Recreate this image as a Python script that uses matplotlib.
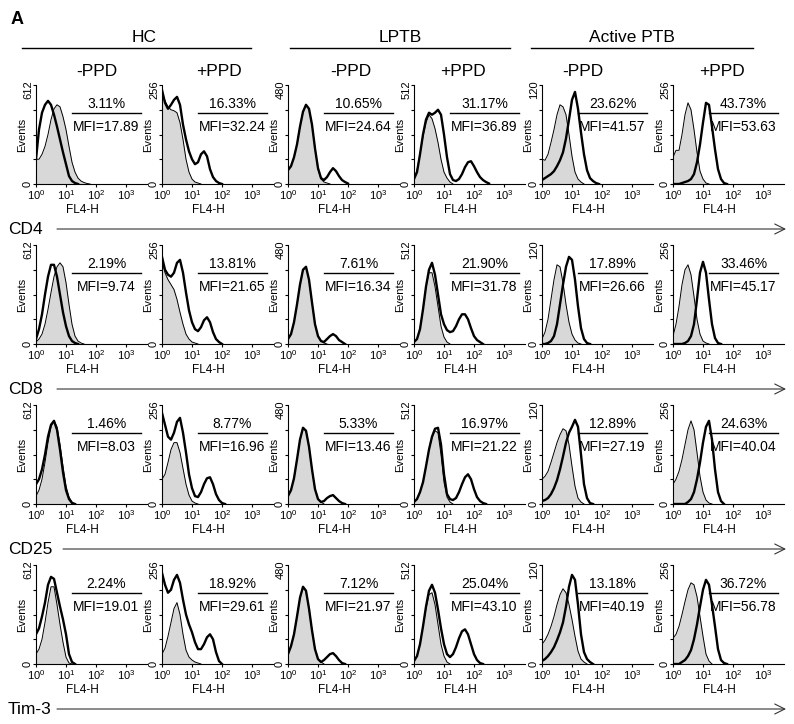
import numpy as np
import matplotlib
matplotlib.use('Agg')
import matplotlib.pyplot as plt

plt.rcParams['font.family'] = ['Liberation Sans', 'DejaVu Sans']
plt.rcParams['mathtext.default'] = 'regular'

# ---------------- data ----------------
groups = ['HC', 'LPTB', 'Active PTB']
conditions = ['-PPD', '+PPD', '-PPD', '+PPD', '-PPD', '+PPD']
markers = ['CD4', 'CD8', 'CD25', 'Tim-3']
y_max = [612, 256, 480, 512, 120, 256]
x_ticks = [1, 10, 100, 1000]
x_tick_labels = ['$10^0$', '$10^1$', '$10^2$', '$10^3$']
log_step = 0.1  # FL4-H sampled every 0.1 decade starting at 10^0

cd4_pct = [3.11, 16.33, 10.65, 31.17, 23.62, 43.73]
cd4_mfi = [17.89, 32.24, 24.64, 36.89, 41.57, 53.63]
cd8_pct = [2.19, 13.81, 7.61, 21.90, 17.89, 33.46]
cd8_mfi = [9.74, 21.65, 16.34, 31.78, 26.66, 45.17]
cd25_pct = [1.46, 8.77, 5.33, 16.97, 12.89, 24.63]
cd25_mfi = [8.03, 16.96, 13.46, 21.22, 27.19, 40.04]
tim3_pct = [2.24, 18.92, 7.12, 25.04, 13.18, 36.72]
tim3_mfi = [19.01, 29.61, 21.97, 43.10, 40.19, 56.78]

# histogram heights as fraction of the y-axis maximum (grey = control, open = stained)
cd4_grey = [
    [0.25, 0.25, 0.30, 0.38, 0.50, 0.65, 0.76, 0.80, 0.78, 0.68, 0.55, 0.38, 0.22, 0.12, 0.06, 0.03, 0.015, 0.005, 0],
    [0.92, 0.84, 0.78, 0.75, 0.74, 0.72, 0.62, 0.45, 0.25, 0.12, 0.05, 0.02, 0.01, 0],
    [0.14, 0.18, 0.27, 0.40, 0.58, 0.73, 0.80, 0.76, 0.60, 0.36, 0.15, 0.05, 0.02, 0.01, 0],
    [0.05, 0.14, 0.30, 0.48, 0.62, 0.70, 0.66, 0.56, 0.42, 0.25, 0.12, 0.06, 0.02, 0],
    [0.25, 0.24, 0.30, 0.42, 0.55, 0.70, 0.80, 0.78, 0.70, 0.50, 0.28, 0.12, 0.05, 0.02, 0],
    [0.27, 0.34, 0.34, 0.50, 0.70, 0.82, 0.75, 0.55, 0.32, 0.13, 0.05, 0.01, 0],
]
cd4_open = [
    [0.25, 0.55, 0.72, 0.80, 0.84, 0.80, 0.70, 0.58, 0.45, 0.32, 0.20, 0.08, 0.03, 0.01, 0],
    [0.95, 0.82, 0.76, 0.80, 0.85, 0.88, 0.80, 0.60, 0.45, 0.33, 0.25, 0.20, 0.22, 0.30, 0.33, 0.28, 0.15, 0.07, 0.03, 0.01, 0],
    [0.14, 0.18, 0.27, 0.40, 0.58, 0.73, 0.80, 0.76, 0.60, 0.36, 0.16, 0.06, 0.04, 0.07, 0.12, 0.16, 0.13, 0.08, 0.04, 0.02, 0.005],
    [0.05, 0.12, 0.30, 0.50, 0.65, 0.72, 0.70, 0.72, 0.75, 0.70, 0.50, 0.27, 0.10, 0.04, 0.03, 0.05, 0.10, 0.17, 0.22, 0.23, 0.18, 0.12, 0.07, 0.04, 0.02, 0.005],
    [0.04, 0.06, 0.08, 0.10, 0.13, 0.18, 0.24, 0.32, 0.46, 0.65, 0.85, 0.93, 0.76, 0.52, 0.30, 0.14, 0.06, 0.03, 0.01, 0],
    [0, 0, 0, 0.01, 0.02, 0.03, 0.05, 0.10, 0.22, 0.40, 0.62, 0.82, 0.80, 0.58, 0.35, 0.15, 0.05, 0.01, 0],
]
cd8_grey = [
    [0.02, 0.05, 0.10, 0.20, 0.35, 0.52, 0.68, 0.78, 0.82, 0.78, 0.62, 0.40, 0.20, 0.08, 0.03, 0.01, 0],
    [0.85, 0.72, 0.65, 0.60, 0.55, 0.45, 0.32, 0.20, 0.10, 0.05, 0.02, 0.01, 0],
    [0.05, 0.10, 0.22, 0.40, 0.60, 0.75, 0.78, 0.65, 0.42, 0.20, 0.08, 0.03, 0.01, 0],
    [0.02, 0.05, 0.15, 0.35, 0.58, 0.72, 0.72, 0.58, 0.38, 0.18, 0.07, 0.02, 0],
    [0.05, 0.12, 0.25, 0.45, 0.65, 0.80, 0.78, 0.62, 0.40, 0.22, 0.10, 0.04, 0.01, 0],
    [0.08, 0.20, 0.38, 0.60, 0.75, 0.80, 0.70, 0.48, 0.25, 0.10, 0.03, 0.01, 0],
]
cd8_open = [
    [0.05, 0.15, 0.30, 0.50, 0.68, 0.80, 0.80, 0.68, 0.50, 0.32, 0.18, 0.08, 0.03, 0.01, 0],
    [0.88, 0.75, 0.70, 0.68, 0.72, 0.82, 0.85, 0.72, 0.52, 0.34, 0.22, 0.15, 0.13, 0.17, 0.24, 0.27, 0.22, 0.12, 0.05, 0.02, 0],
    [0.05, 0.10, 0.22, 0.40, 0.60, 0.75, 0.78, 0.65, 0.42, 0.20, 0.08, 0.03, 0.02, 0.05, 0.08, 0.10, 0.08, 0.04, 0.02, 0],
    [0.02, 0.05, 0.15, 0.35, 0.58, 0.75, 0.82, 0.70, 0.50, 0.30, 0.20, 0.14, 0.12, 0.13, 0.18, 0.25, 0.30, 0.30, 0.25, 0.16, 0.08, 0.04, 0.02, 0],
    [0, 0, 0.01, 0.03, 0.08, 0.20, 0.40, 0.60, 0.78, 0.88, 0.85, 0.65, 0.38, 0.16, 0.05, 0.01, 0],
    [0, 0, 0, 0, 0.01, 0.03, 0.08, 0.20, 0.45, 0.72, 0.83, 0.72, 0.45, 0.20, 0.06, 0.01, 0],
]
cd25_grey = [
    [0.08, 0.14, 0.25, 0.42, 0.62, 0.78, 0.84, 0.78, 0.60, 0.38, 0.18, 0.07, 0.02, 0],
    [0.25, 0.30, 0.42, 0.55, 0.62, 0.62, 0.52, 0.36, 0.20, 0.09, 0.03, 0.01, 0],
    [0.08, 0.14, 0.26, 0.45, 0.65, 0.77, 0.74, 0.58, 0.35, 0.15, 0.05, 0.02, 0],
    [0.02, 0.05, 0.12, 0.22, 0.38, 0.55, 0.67, 0.74, 0.72, 0.50, 0.22, 0.07, 0.02, 0],
    [0.25, 0.28, 0.33, 0.42, 0.52, 0.62, 0.70, 0.76, 0.74, 0.60, 0.38, 0.18, 0.06, 0.02, 0],
    [0.20, 0.25, 0.33, 0.45, 0.60, 0.75, 0.84, 0.75, 0.52, 0.28, 0.12, 0.04, 0.01, 0],
]
cd25_open = [
    [0.20, 0.25, 0.35, 0.50, 0.68, 0.80, 0.84, 0.75, 0.55, 0.32, 0.14, 0.05, 0.01, 0],
    [0.92, 0.80, 0.68, 0.65, 0.72, 0.83, 0.87, 0.72, 0.52, 0.30, 0.16, 0.08, 0.07, 0.12, 0.20, 0.26, 0.27, 0.20, 0.10, 0.04, 0.01, 0],
    [0.08, 0.14, 0.26, 0.45, 0.65, 0.77, 0.74, 0.58, 0.35, 0.15, 0.05, 0.02, 0.03, 0.06, 0.08, 0.09, 0.06, 0.03, 0.01, 0],
    [0.02, 0.05, 0.12, 0.22, 0.38, 0.55, 0.68, 0.76, 0.77, 0.60, 0.30, 0.10, 0.05, 0.04, 0.06, 0.12, 0.20, 0.27, 0.30, 0.25, 0.15, 0.07, 0.03, 0.01, 0],
    [0.03, 0.04, 0.06, 0.10, 0.16, 0.24, 0.35, 0.48, 0.62, 0.72, 0.78, 0.85, 0.78, 0.50, 0.20, 0.06, 0.01, 0],
    [0, 0, 0, 0, 0, 0.02, 0.05, 0.12, 0.25, 0.42, 0.62, 0.78, 0.84, 0.65, 0.35, 0.12, 0.03, 0],
]
tim3_grey = [
    [0.10, 0.15, 0.25, 0.42, 0.62, 0.78, 0.78, 0.60, 0.40, 0.22, 0.07, 0.01, 0],
    [0.10, 0.16, 0.28, 0.42, 0.56, 0.62, 0.50, 0.30, 0.14, 0.07, 0.04, 0.02, 0.01, 0],
    [0.10, 0.18, 0.30, 0.48, 0.67, 0.78, 0.74, 0.56, 0.34, 0.15, 0.05, 0.02, 0],
    [0.03, 0.08, 0.20, 0.38, 0.56, 0.70, 0.72, 0.60, 0.40, 0.20, 0.08, 0.02, 0],
    [0.20, 0.24, 0.30, 0.38, 0.48, 0.60, 0.70, 0.76, 0.72, 0.60, 0.45, 0.28, 0.13, 0.05, 0.02, 0],
    [0.26, 0.30, 0.38, 0.50, 0.63, 0.75, 0.82, 0.80, 0.68, 0.48, 0.28, 0.10, 0.03, 0],
]
tim3_open = [
    [0.30, 0.36, 0.48, 0.62, 0.80, 0.88, 0.86, 0.72, 0.58, 0.45, 0.30, 0.10, 0.02, 0],
    [0.92, 0.80, 0.72, 0.75, 0.85, 0.90, 0.82, 0.65, 0.50, 0.40, 0.32, 0.22, 0.15, 0.15, 0.20, 0.27, 0.30, 0.25, 0.12, 0.03, 0],
    [0.10, 0.18, 0.30, 0.48, 0.67, 0.78, 0.74, 0.56, 0.34, 0.15, 0.05, 0.02, 0.04, 0.07, 0.10, 0.11, 0.08, 0.04, 0.01, 0],
    [0.03, 0.08, 0.20, 0.38, 0.58, 0.74, 0.80, 0.72, 0.55, 0.36, 0.20, 0.10, 0.07, 0.10, 0.17, 0.26, 0.33, 0.35, 0.30, 0.20, 0.10, 0.04, 0.01, 0],
    [0.03, 0.05, 0.08, 0.12, 0.17, 0.24, 0.32, 0.42, 0.58, 0.78, 0.90, 0.85, 0.60, 0.30, 0.12, 0.05, 0.02, 0],
    [0, 0, 0, 0.02, 0.04, 0.08, 0.14, 0.25, 0.40, 0.58, 0.75, 0.85, 0.80, 0.60, 0.38, 0.15, 0.04, 0.01, 0],
]

rows = [
    (cd4_grey, cd4_open, cd4_pct, cd4_mfi),
    (cd8_grey, cd8_open, cd8_pct, cd8_mfi),
    (cd25_grey, cd25_open, cd25_pct, cd25_mfi),
    (tim3_grey, tim3_open, tim3_pct, tim3_mfi),
]

# ---------------- layout (pixels) ----------------
FW, FH = 794, 724
fig = plt.figure(figsize=(FW / 100, FH / 100), dpi=100)

col_left = [36, 162, 288, 414, 542, 673]
row_top = [85, 245, 405, 565]
AW, AH = 111, 99
GREY = '#d8d8d8'


def fx(x):
    return x / FW


def fy(y):
    return 1 - y / FH


# overlay for headers, row labels and arrows
ov = fig.add_axes([0, 0, 1, 1])
ov.set_xlim(0, FW)
ov.set_ylim(FH, 0)
ov.axis('off')

ov.text(11, 19, 'A', fontsize=13, fontweight='bold', ha='left', va='center')
group_text_x = [144, 400, 632]
group_line = [(22, 251), (290, 510), (531, 753)]
for g, tx, (x0, x1) in zip(groups, group_text_x, group_line):
    ov.text(tx, 38, g, fontsize=12.5, ha='center', va='center')
    ov.plot([x0, x1], [48, 48], color='black', lw=1)
cond_x = [97, 219, 351, 463, 583, 722]
for c, cx in zip(conditions, cond_x):
    ov.text(cx, 71, c, fontsize=12.5, ha='center', va='center')

for r, m in enumerate(markers):
    ly = row_top[r] + AH + 46
    ov.text(8, ly, m, fontsize=12.5, ha='left', va='center')
    ov.annotate('', xy=(786, ly - 1), xytext=(57 if m != 'CD25' else 63, ly - 1),
                arrowprops=dict(arrowstyle='->,head_length=0.6,head_width=0.3',
                                color='#333333', lw=0.8, mutation_scale=12,
                                shrinkA=0, shrinkB=0))

log_xmax = 3.7
for r, (grey_rows, open_rows, pct, mfi) in enumerate(rows):
    for c in range(6):
        ax = fig.add_axes([fx(col_left[c]), fy(row_top[r] + AH), AW / FW, AH / FH])
        ym = y_max[c]
        g = np.array(grey_rows[c]) * ym
        o = np.array(open_rows[c]) * ym
        xg = 10 ** (np.arange(len(g)) * log_step)
        xo = 10 ** (np.arange(len(o)) * log_step)
        ax.fill_between(xg, 0, g, color=GREY, lw=0, zorder=1)
        ax.plot(xg, g, color='black', lw=0.7, zorder=2)
        ax.plot(xo, o, color='black', lw=1.7, zorder=3)
        ax.set_xscale('log')
        ax.set_xlim(1, 10 ** log_xmax)
        ax.set_ylim(0, ym)
        ax.set_xticks(x_ticks)
        ax.set_xticklabels(x_tick_labels)
        ax.minorticks_off()
        ax.set_yticks([0, ym * 0.25, ym * 0.5, ym * 0.75, ym])
        ax.set_yticklabels(['0', '', '', '', ''], rotation=90, va='center')
        ax.tick_params(axis='both', direction='out', length=2.2, width=0.8,
                       labelsize=8, pad=0.5)
        ax.tick_params(axis='y', pad=0)
        # top y label sits a little below the top tick, as in the reference
        ax.text(-7.5 / AW, 1 - 5 / AH, str(ym), transform=ax.transAxes,
                rotation=90, ha='center', va='center', fontsize=8)
        for s in ['top', 'right']:
            ax.spines[s].set_visible(False)
        for s in ['left', 'bottom']:
            ax.spines[s].set_linewidth(0.8)
        ax.patch.set_alpha(0)
        ax.set_ylabel('Events', fontsize=8, va='center')
        ax.yaxis.set_label_coords(-14 / AW, 0.5)
        ax.set_xlabel('FL4-H', fontsize=8.5, va='center')
        ax.xaxis.set_label_coords(0.42, -26 / AH)
        ax.text(0.635, 1 - 19 / AH, f'{pct[c]:.2f}%', transform=ax.transAxes,
                ha='center', va='center', fontsize=10)
        ax.plot([0.32, 0.95], [1 - 28 / AH] * 2, transform=ax.transAxes,
                color='black', lw=1, clip_on=False)
        ax.text(0.635, 1 - 42 / AH, f'MFI={mfi[c]:.2f}', transform=ax.transAxes,
                ha='center', va='center', fontsize=10)

fig.savefig('out.png', dpi=100)
